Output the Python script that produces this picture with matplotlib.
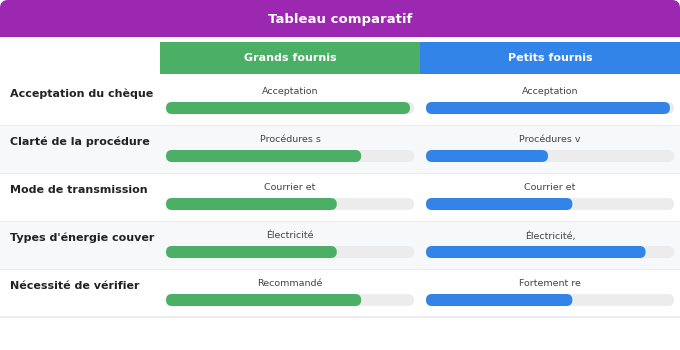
import matplotlib
matplotlib.use("Agg")
import matplotlib.pyplot as plt
from matplotlib.patches import FancyBboxPatch, Rectangle

# data
titre = "Tableau comparatif"
colonnes = ["Grands fournis", "Petits fournis"]
criteres = ["Acceptation du chèque", "Clarté de la procédure", "Mode de transmission",
            "Types d'énergie couver", "Nécessité de vérifier"]
grands_labels = ["Acceptation", "Procédures s", "Courrier et", "Électricité", "Recommandé"]
petits_labels = ["Acceptation", "Procédures v", "Courrier et", "Électricité,", "Fortement re"]
grands_scores = [10, 8, 7, 7, 8]
petits_scores = [10, 5, 6, 9, 6]
score_max = 10

PURPLE = "#9c27b0"
GREEN = "#4bb066"
BLUE = "#3384e8"
TRACK = "#ececec"

W, H = 680, 350
fig = plt.figure(figsize=(6.8, 3.5), dpi=100)
ax = fig.add_axes([0, 0, 1, 1])
ax.set_xlim(0, W)
ax.set_ylim(H, 0)
ax.axis("off")

# title band, rounded top corners only
ax.add_patch(FancyBboxPatch((0, 0), W, 37, boxstyle="round,pad=0,rounding_size=8",
                            fc=PURPLE, ec="none"))
ax.add_patch(Rectangle((0, 18), W, 19, fc=PURPLE, ec="none"))
ax.text(W / 2, 19, titre, color="white", fontsize=9.5, fontweight="bold",
        ha="center", va="center")

# column headers
col_x = [160, 420]
col_w = 260
col_colors = [GREEN, BLUE]
for cx, name, c in zip(col_x, colonnes, col_colors):
    ax.add_patch(Rectangle((cx, 42), col_w, 32, fc=c, ec="none"))
    ax.text(cx + col_w / 2, 58, name, color="white", fontsize=8, fontweight="bold",
            ha="center", va="center")

row_h = 48
top0 = 77
track_pad = 6
track_w = col_w - 2 * track_pad
bar_max = track_w - 4
bar_h = 12

series = [(grands_labels, grands_scores), (petits_labels, petits_scores)]
for i, crit in enumerate(criteres):
    t = top0 + i * row_h
    bg = "white" if i % 2 == 0 else "#f7f8fa"
    ax.add_patch(Rectangle((0, t), W, row_h, fc=bg, ec="none"))
    ax.plot([0, W], [t + row_h, t + row_h], color="#ebedf0",
            lw=1.5 if i == len(criteres) - 1 else 0.8)
    ax.text(10, t + 17, crit, color="#222222", fontsize=8, fontweight="bold",
            ha="left", va="center")
    for j, (labels, scores) in enumerate(series):
        cx = col_x[j]
        ax.text(cx + col_w / 2, t + 15, labels[i], color="#444444", fontsize=6.8,
                ha="center", va="center")
        x0 = cx + track_pad
        y0 = t + 25
        ax.add_patch(FancyBboxPatch((x0, y0), track_w, bar_h,
                                    boxstyle="round,pad=0,rounding_size=6",
                                    fc=TRACK, ec="none"))
        bw = bar_max * scores[i] / score_max
        ax.add_patch(FancyBboxPatch((x0, y0), bw, bar_h,
                                    boxstyle="round,pad=0,rounding_size=6",
                                    fc=col_colors[j], ec="none"))

fig.savefig("out.png", dpi=100)
